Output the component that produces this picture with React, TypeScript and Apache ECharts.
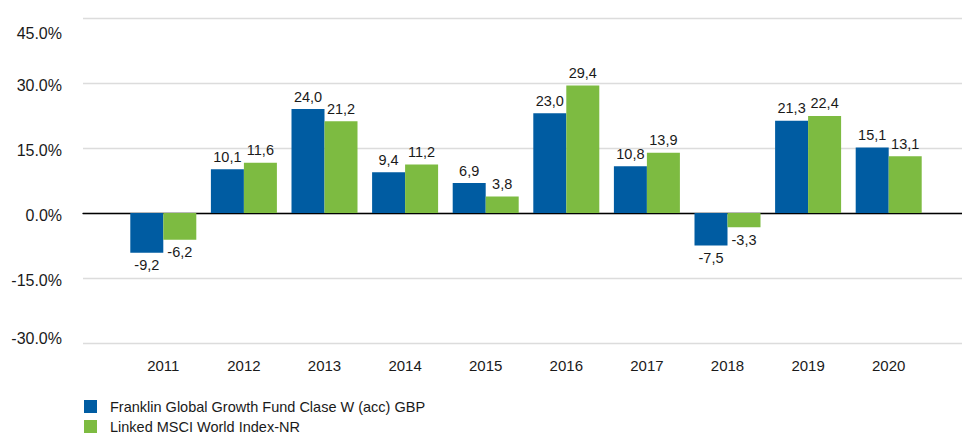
import React, { useEffect, useRef } from "react";
import * as echarts from "echarts";

const categories = ["2011", "2012", "2013", "2014", "2015", "2016", "2017", "2018", "2019", "2020"];
const fundName = "Franklin Global Growth Fund Clase W (acc) GBP";
const indexName = "Linked MSCI World Index-NR";
const fundValues = [-9.2, 10.1, 24.0, 9.4, 6.9, 23.0, 10.8, -7.5, 21.3, 15.1];
const indexValues = [-6.2, 11.6, 21.2, 11.2, 3.8, 29.4, 13.9, -3.3, 22.4, 13.1];
const yTicks = [-30, -15, 0, 15, 30, 45];

const FONT = "'Liberation Sans', Arial, sans-serif";
const TXT = "#1a1a1a";

function toData(vals: number[]) {
  return vals.map((v) => ({
    value: v,
    label: { position: v < 0 ? "bottom" : "top" },
  }));
}

export default function App() {
  const ref = useRef<HTMLDivElement>(null);
  useEffect(() => {
    document.body.style.margin = "0";
    const chart = echarts.init(ref.current!, undefined, { renderer: "svg" });
    const label = {
      show: true,
      fontFamily: FONT,
      fontSize: 14.5,
      color: TXT,
      distance: 5,
      formatter: (p: any) => Number(p.value).toFixed(1).replace(".", ","),
    };
    const yMin = yTicks[0];
    const yMax = yTicks[yTicks.length - 1];
    const legendText = { fontFamily: FONT, fontSize: 14.5, color: TXT, padding: [0, 0, 0, 8] };
    const yFont = { fontFamily: FONT, fontSize: 16, color: TXT };
    chart.setOption({
      animation: false,
      textStyle: { fontFamily: FONT },
      grid: [
        { left: 83, right: 0, top: 18, bottom: 92 },
        { left: 123, right: 33, top: 18, bottom: 92 },
      ],
      xAxis: [
        {
          gridIndex: 0,
          type: "value",
          min: 0,
          max: 1,
          axisLine: { show: true, onZero: true, lineStyle: { color: "#000", width: 1.3 } },
          axisTick: { show: false },
          axisLabel: { show: false },
          splitLine: { show: false },
        },
        {
          gridIndex: 1,
          type: "category",
          data: categories,
          axisLine: { show: false },
          axisTick: { show: false },
          axisLabel: { fontFamily: FONT, fontSize: 15, color: TXT, margin: 15 },
        },
      ],
      yAxis: [
        {
          gridIndex: 0,
          type: "value",
          min: yMin,
          max: yMax,
          interval: 15,
          axisLine: { show: false },
          axisTick: { show: false },
          axisLabel: {
            ...yFont,
            margin: 21,
            formatter: (v: number) => {
              const t = v.toFixed(1) + "%";
              if (v === yMax) return "{top|" + t + "}";
              if (v === yMin) return "{bot|" + t + "}";
              return "{mid|" + t + "}";
            },
            rich: {
              top: { ...yFont, padding: [30, 0, 0, 0] },
              bot: { ...yFont, padding: [0, 0, 10, 0] },
              mid: { ...yFont, padding: [5, 0, 0, 0] },
            },
          },
          splitLine: { show: true, lineStyle: { color: "#dcdcdc", width: 1.3 } },
        },
        {
          gridIndex: 1,
          type: "value",
          min: yMin,
          max: yMax,
          interval: 15,
          show: false,
          splitLine: { show: false },
        },
      ],
      legend: [
        {
          orient: "vertical",
          left: 84,
          top: 399,
          padding: 0,
          itemWidth: 13,
          itemHeight: 13,
          icon: "rect",
          textStyle: legendText,
          data: [fundName],
        },
        {
          orient: "vertical",
          left: 84,
          top: 419,
          padding: 0,
          itemWidth: 13,
          itemHeight: 13,
          icon: "rect",
          textStyle: legendText,
          data: [indexName],
        },
      ],
      series: [
        {
          name: fundName,
          type: "bar",
          xAxisIndex: 1,
          yAxisIndex: 1,
          data: toData(fundValues),
          barWidth: 33,
          barGap: "0%",
          itemStyle: { color: "#005ca2" },
          label,
        },
        {
          name: indexName,
          type: "bar",
          xAxisIndex: 1,
          yAxisIndex: 1,
          data: toData(indexValues),
          barWidth: 33,
          barGap: "0%",
          itemStyle: { color: "#7dbb41" },
          label,
        },
      ],
    });
    return () => chart.dispose();
  }, []);
  return <div ref={ref} style={{ width: 962, height: 435 }} />;
}
